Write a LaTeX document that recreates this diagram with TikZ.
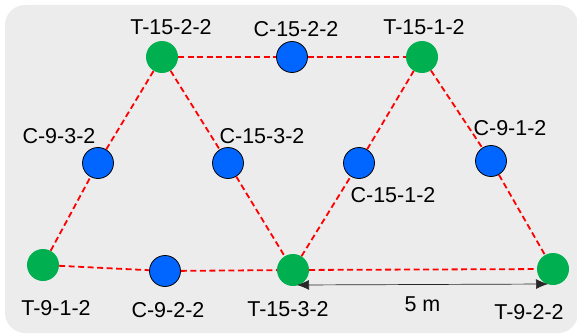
\documentclass[tikz,border=0pt]{standalone}
\usepackage{fontspec}
\setmainfont{Liberation Sans}
\usetikzlibrary{arrows.meta,positioning,calc}
\definecolor{panelGray}{RGB}{236, 236, 236}
\definecolor{termGreen}{RGB}{0, 176, 80}
\definecolor{cellBlue}{RGB}{0, 102, 255}
\definecolor{linkRed}{RGB}{255, 0, 0}
\definecolor{dimInk}{RGB}{40, 40, 40}

\begin{document}
\begin{tikzpicture}[
      x=1pt, y=-1pt,
      panel/.style={fill=panelGray, draw=none, rounded corners=20pt},
      tnode/.style={circle, fill=termGreen, draw=none, minimum size=32pt, inner sep=0pt},
      cnode/.style={circle, fill=cellBlue, draw=black, line width=0.8pt, minimum size=31pt, inner sep=0pt},
      tag/.style={font=\fontsize{21.5pt}{25pt}\selectfont, text=black, inner sep=0pt},
      link/.style={draw=linkRed, line width=1.8pt, dash pattern=on 6pt off 3.5pt},
      dim/.style={{Latex[length=12pt,width=10pt]}-{Latex[length=12pt,width=10pt]}, line width=0.7pt, color=dimInk}
  ]
      \useasboundingbox (0,0) rectangle (577,334);
      \fill[panel] (5,5) rectangle (578,333);

      % TOP ROW
      \node[tnode] (t1522) at (162, 57) {};
      \node[cnode] (c1522) at (292, 57) {};
      \node[tnode] (t1512) at (422, 57) {};

      % MIDDLE ROW
      \node[cnode] (c932) at (98, 163) {};
      \node[cnode] (c1532) at (228, 163) {};
      \node[cnode] (c1512) at (359, 163) {};
      \node[cnode] (c912) at (491, 161) {};

      % BOTTOM ROW
      \node[tnode] (t912) at (43, 265) {};
      \node[cnode] (c922) at (165, 271) {};
      \node[tnode] (t1532) at (293, 270) {};
      \node[tnode] (t922) at (553, 269) {};

      % LINKS
      \draw[link] (t912) -- (c932) -- (t1522);
      \draw[link] (t1522) -- (c1532) -- (t1532);
      \draw[link] (t912) -- (c922) -- (t1532);
      \draw[link] (t1522) -- (c1522) -- (t1512);
      \draw[link] (t1532) -- (c1512) -- (t1512);
      \draw[link] (t1512) -- (c912) -- (t922);
      \draw[link] (t1532) -- (t922);

      % LABELS
      \node[tag] (lt1522) at (171, 27) {T-15-2-2};
      \node[tag] (lc1522) at (296, 29) {C-15-2-2};
      \node[tag] (lt1512) at (424, 27) {T-15-1-2};
      \node[tag] (lc932) at (59, 136) {C-9-3-2};
      \node[tag] (lc1532) at (262, 136) {C-15-3-2};
      \node[tag] (lc1512) at (393, 195) {C-15-1-2};
      \node[tag] (lc912) at (510, 128) {C-9-1-2};
      \node[tag] (lt912) at (56, 308) {T-9-1-2};
      \node[tag] (lc922) at (168, 310) {C-9-2-2};
      \node[tag] (lt1532) at (288, 309) {T-15-3-2};
      \node[tag] (lt922) at (529, 312) {T-9-2-2};

      % SPAN
      \coordinate (spanL) at ($(t1532)+(4,15)$);
      \coordinate (spanR) at ($(t922)+(-5,15)$);
      \draw[dim] (spanL) -- node[tag, below=12pt] (spanlbl) {5 m} (spanR);
  \end{tikzpicture}
\end{document}
